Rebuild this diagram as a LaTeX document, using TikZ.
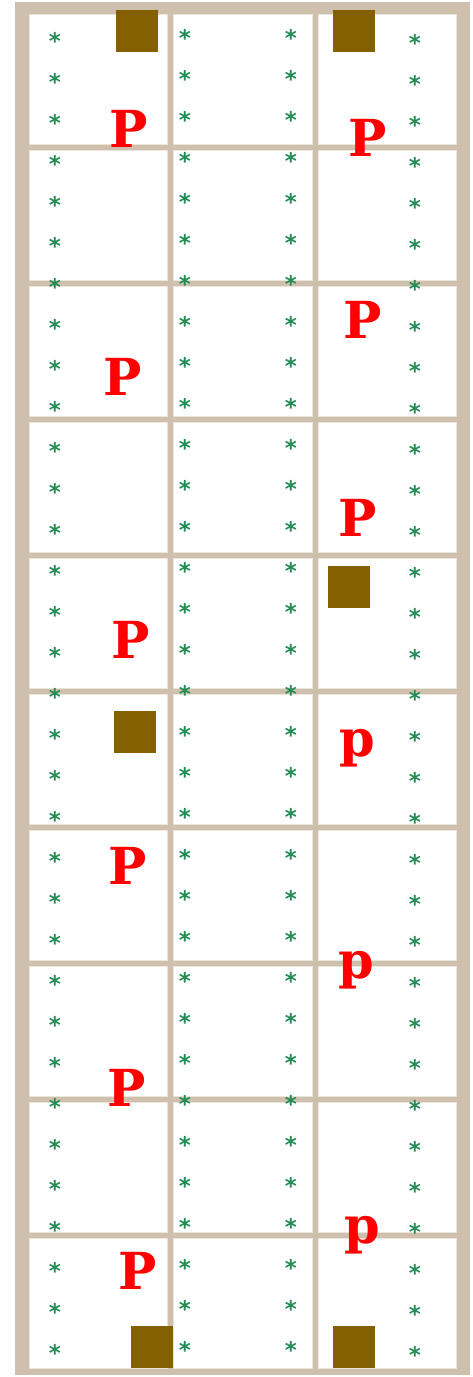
\documentclass[tikz,border=0pt]{standalone}
\usepackage{fontspec}
\usepackage{tikz}
\newfontfamily\glyphfont{DejaVu Serif}
\newfontfamily\starfont{DejaVu Sans}
\definecolor{frameTan}{RGB}{207,192,173}
\definecolor{cellEdge}{RGB}{236,229,221}
\definecolor{starGreen}{RGB}{34,140,86}
\definecolor{blockBrown}{RGB}{132,96,0}

\begin{document}
\begin{tikzpicture}[x=1pt, y=-1pt,
  cellbox/.style={fill=white, draw=cellEdge, line width=1pt},
  starmark/.style={font=\starfont\bfseries\fontsize{23}{23}\selectfont, text=starGreen, inner sep=0pt, anchor=base, yshift=-13pt},
  letter/.style={font=\glyphfont\bfseries\fontsize{51}{51}\selectfont, text=red, inner sep=0pt, anchor=center},
  block/.style={fill=blockBrown}]
  \useasboundingbox (0,0) rectangle (472,1377);

  % Frame and cells
  \fill[frameTan] (15,2) rectangle (469.5,1375);
  \foreach \r in {0,...,9} {
    \foreach \x/\w in {29/138, 173/139, 318/138} {
      \filldraw[cellbox] (\x, 14+136*\r) rectangle ++(\w, 130);
    }
  }

  % Asterisk columns
  \foreach \k in {0,...,32} {
    \node[starmark] (sa\k) at (55, 36.7+41*\k) {*};
    \node[starmark] (sb\k) at (185, 33.3+41*\k) {*};
    \node[starmark] (sc\k) at (291, 33.3+41*\k) {*};
    \node[starmark] (sd\k) at (415, 38.3+41*\k) {*};
  }

  % Brown blocks
  \foreach \x/\y in {116/10, 333/10, 328/566, 114/711, 131/1326, 333/1326} {
    \fill[block] (\x,\y) rectangle ++(42,42);
  }

  % Letters
  \node[letter] (p1) at (129, 129) {P};
  \node[letter] (p2) at (367.5, 137.5) {P};
  \node[letter] (p3) at (363, 320.3) {P};
  \node[letter] (p4) at (122.8, 377) {P};
  \node[letter] (p5) at (357.5, 517.5) {P};
  \node[letter] (p6) at (131, 639.7) {P};
  \node[letter] (p7) at (357.7, 748.3) {p};
  \node[letter] (p8) at (127.5, 865.8) {P};
  \node[letter] (p9) at (356.7, 970) {p};
  \node[letter] (p10) at (126.5, 1087.8) {P};
  \node[letter] (p11) at (362.5, 1235.3) {p};
  \node[letter] (p12) at (137.5, 1271) {P};
\end{tikzpicture}
\end{document}
